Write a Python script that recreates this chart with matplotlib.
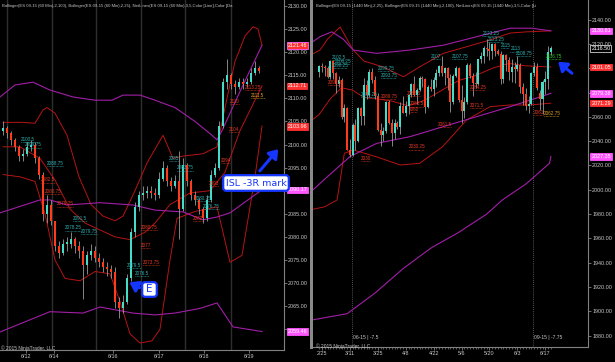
import matplotlib
matplotlib.use("Agg")
import matplotlib.pyplot as plt
from matplotlib.patches import FancyBboxPatch
import matplotlib.transforms as mtransforms
from matplotlib import font_manager

W, H = 615, 362
_names = {f.name for f in font_manager.fontManager.ttflist}
FAM = [f for f in ['Liberation Sans Narrow', 'Liberation Sans', 'DejaVu Sans'] if f in _names]
NARROW = 'Liberation Sans Narrow' in _names
plt.rcParams['font.family'] = FAM

# ---------------- LEFT PANEL DATA (ES 09-15, 60 min) ----------------
L_open0 = 2103.0
L_close = [2103.5, 2102.5, 2101, 2099.5, 2097.5, 2098, 2099.5, 2100, 2097, 2093.5,
           2085, 2087, 2083.5, 2078, 2076.5, 2078.5, 2078.5, 2079.5, 2078, 2077,
           2074, 2076, 2077, 2075.5, 2074.5, 2073.5, 2073, 2072.5, 2066, 2064.5,
           2066, 2071, 2081, 2086.5, 2089, 2089.5, 2090, 2089.5, 2089, 2092.5,
           2095, 2092, 2091, 2092, 2086, 2095.5, 2092, 2089, 2088, 2086,
           2084, 2088, 2093.5, 2095, 2104, 2113.5, 2115, 2113, 2112.5, 2113.5,
           2113, 2113.5, 2115.5, 2116.5, 2116]
L_high = [2105, 2104, 2103, 2101.5, 2100, 2099, 2100.5, 2101, 2100.5, 2097.5,
          2094, 2089, 2088, 2082, 2079, 2079.5, 2080, 2081, 2080, 2079,
          2078, 2077, 2078.5, 2078, 2076.5, 2075.5, 2074.5, 2074, 2073.5, 2067,
          2067.5, 2072, 2082, 2087.5, 2090, 2091, 2091, 2091, 2090.5, 2094,
          2096.5, 2095.5, 2093, 2093.5, 2098.5, 2097, 2096, 2092.5, 2090, 2088.5,
          2086.5, 2089, 2094.5, 2096, 2105, 2114.5, 2118.5, 2115.5, 2114, 2114.5,
          2114.5, 2114.5, 2116.5, 2118, 2117]
L_low = [2102, 2101.5, 2100, 2098.5, 2096.5, 2096.5, 2097.5, 2098.5, 2096, 2092.5,
         2083.5, 2083, 2082.5, 2077, 2075.5, 2076, 2077, 2077.5, 2076.5, 2075.5,
         2066.5, 2072, 2075, 2074.5, 2073.5, 2072.5, 2071.5, 2071, 2064.5, 2062.5,
         2063.5, 2065.5, 2070.5, 2080, 2085.5, 2088, 2088.5, 2088.5, 2088, 2088.5,
         2092, 2091, 2090, 2090.5, 2079.5, 2085.5, 2091, 2088, 2087, 2085,
         2083, 2083.5, 2087.5, 2093, 2094.5, 2103.5, 2112, 2112, 2111, 2112,
         2112, 2112.5, 2113, 2115, 2115.5]

# Bollinger lines, left panel (bar index, price)
L_rup_x = [0, 5, 8, 10, 11, 13, 16, 19, 22, 25, 28, 30, 33, 36, 40, 42.5, 45, 50, 53.5, 55.5, 58, 60.5, 62.5, 63.75, 64.75]
L_rup_y = [2104.8, 2104.8, 2104.6, 2107.5, 2108, 2106.8, 2102, 2093, 2087, 2084.5, 2083.5, 2084.5, 2090, 2096, 2102, 2097, 2097.5, 2098, 2099.5, 2108, 2118, 2123.5, 2125.5, 2125, 2121.5]
L_rmid_x = [0, 4.25, 9.25, 13, 16.75, 20.5, 24.25, 28, 31.75, 35.5, 38, 41.75, 46.75, 51.75, 55.5, 59.25, 64.75]
L_rmid_y = [2099.5, 2099.5, 2097, 2092.3, 2086, 2083, 2081.5, 2080, 2079.4, 2081, 2083, 2087, 2089.5, 2090, 2094, 2103, 2112.7]
L_rlo_x = [0, 4.25, 8, 10.5, 13, 15.5, 19.25, 23, 26.75, 29.25, 31.75, 34.25, 37.25, 39.25, 41.75, 43.5, 48, 53.5, 56.75, 59.75, 63, 64.75]
L_rlo_y = [2093.5, 2093, 2092, 2085, 2075, 2071, 2070.5, 2072.5, 2072, 2066, 2059, 2057, 2057.5, 2060, 2075, 2084, 2085.5, 2086.5, 2074.5, 2076, 2093, 2104]
L_pup_x = [-0.75, 3, 7.5, 11.75, 17.5, 23, 27.25, 30, 34.25, 38, 43, 48, 52.25, 53.5, 54.75, 59.25, 64.75]
L_pup_y = [2110.3, 2112.9, 2113.5, 2111.8, 2110.3, 2109.6, 2109.6, 2110.7, 2110.7, 2109.6, 2108, 2105, 2102, 2101, 2103, 2111.5, 2121.5]
L_pmid_x = [-0.75, 9.25, 11.75, 16, 24.25, 32.5, 38, 45, 50, 53.5, 56.75, 64.75]
L_pmid_y = [2085.2, 2088, 2088, 2086.9, 2087.4, 2086.9, 2085.8, 2085.4, 2083.7, 2084.3, 2085.2, 2090.2]
L_plo_x = [-0.75, 11.75, 20, 24.25, 32.5, 38, 43, 49.25, 53.5, 57.5, 64.75]
L_plo_y = [2059.4, 2063.8, 2063.5, 2064.8, 2063.5, 2063.1, 2063.5, 2064.5, 2065.7, 2060.5, 2059.5]

L_sessions = [1, 12.25, 23.25, 34.5, 45.5, 57]
L_tick_pos = [5.75, 12.75, 27.5, 39, 50.25, 61.5]
L_tick_lab = ["6/12", "6/14", "6/16", "6/17", "6/18", "6/19"]
L_yticks = list(range(2055, 2131, 5))
L_markers = [(2121.46, '#ff3030', '#ff66ff'), (2112.71, '#ff3030', '#ff3030'), (2103.96, '#ff3030', '#ff3030'),
             (2090.17, '#ff55ff', '#ff55ff'), (2059.46, '#ff55ff', '#ff55ff')]

# ---------------- RIGHT PANEL DATA (ES 09-15, daily) ----------------
R_dates = ["2/24", "2/25", "2/26", "2/27", "3/2", "3/3", "3/4", "3/5", "3/6", "3/9",
           "3/10", "3/11", "3/12", "3/13", "3/16", "3/17", "3/18", "3/19", "3/20", "3/23",
           "3/24", "3/25", "3/26", "3/27", "3/30", "3/31", "4/1", "4/2", "4/3", "4/6",
           "4/7", "4/8", "4/9", "4/10", "4/13", "4/14", "4/15", "4/16", "4/17", "4/20",
           "4/21", "4/22", "4/23", "4/24", "4/27", "4/28", "4/29", "4/30", "5/1", "5/4",
           "5/5", "5/6", "5/7", "5/8", "5/11", "5/12", "5/13", "5/14", "5/15", "5/18",
           "5/19", "5/20", "5/21", "5/22", "5/25", "5/26", "5/27", "5/28", "5/29", "6/1",
           "6/2", "6/3", "6/4", "6/5", "6/8", "6/9", "6/10", "6/11", "6/12", "6/15",
           "6/16", "6/17", "6/18", "6/19"]
R_open = [2097, 2102, 2101, 2100, 2093, 2106, 2096, 2087, 2090, 2060,
          2067, 2033, 2029, 2053, 2040, 2067, 2061, 2086, 2078, 2097,
          2090, 2077, 2049, 2045, 2048, 2072, 2055, 2047, 2055, 2052,
          2069, 2063, 2069, 2078, 2087, 2078, 2082, 2092, 2091, 2068,
          2085, 2083, 2090, 2096, 2102, 2096, 2100, 2092, 2072, 2094,
          2100, 2074, 2065, 2072, 2103, 2094, 2088, 2087, 2108, 2110,
          2117, 2116, 2114, 2120, 2114, 2112, 2091, 2111, 2107, 2097,
          2101, 2099, 2103, 2085, 2079, 2069, 2071, 2096, 2101, 2080,
          2075, 2089, 2091, 2113]
R_high = [2103, 2104, 2103, 2102, 2107, 2107, 2097, 2094, 2092, 2071,
          2068, 2042, 2055, 2058, 2068, 2068, 2092, 2090, 2099, 2100,
          2094, 2080, 2055, 2052, 2073, 2074, 2058, 2058, 2057, 2072,
          2077, 2073, 2079, 2088, 2094, 2084, 2094, 2094, 2092, 2086,
          2091, 2093, 2099, 2103, 2110, 2101, 2101, 2095, 2095, 2102,
          2101, 2086, 2076, 2104, 2104, 2096, 2097, 2108, 2113, 2118,
          2124, 2122, 2121, 2121, 2116, 2114, 2112, 2112, 2109, 2108,
          2105, 2110, 2104, 2088, 2084, 2077, 2097, 2105, 2104, 2082,
          2090, 2098, 2118, 2118]
R_low = [2093, 2097, 2094, 2092, 2091, 2091, 2080, 2085, 2058, 2056,
         2033, 2027, 2028, 2033, 2039, 2053, 2053, 2075, 2076, 2088,
         2075, 2048, 2036, 2040, 2047, 2054, 2036, 2042, 2050, 2046,
         2063, 2061, 2062, 2076, 2077, 2071, 2081, 2085, 2063, 2067,
         2081, 2077, 2085, 2094, 2094, 2086, 2082, 2064, 2071, 2093,
         2072, 2055, 2059, 2071, 2092, 2077, 2084, 2086, 2104, 2104,
         2110, 2107, 2108, 2110, 2111, 2087, 2088, 2098, 2090, 2089,
         2088, 2098, 2080, 2070, 2066, 2063, 2070, 2094, 2082, 2066,
         2062, 2079, 2083, 2111]
R_close = [2102, 2101, 2100, 2093, 2106, 2096, 2087, 2090, 2060, 2067,
           2033, 2029, 2053, 2040, 2067, 2061, 2086, 2078, 2097, 2090,
           2077, 2049, 2045, 2048, 2072, 2055, 2047, 2055, 2052, 2069,
           2063, 2069, 2078, 2087, 2078, 2082, 2092, 2091, 2068, 2085,
           2083, 2090, 2096, 2102, 2096, 2100, 2092, 2072, 2094, 2100,
           2074, 2065, 2072, 2103, 2094, 2088, 2087, 2108, 2110, 2117,
           2116, 2114, 2120, 2114, 2112, 2091, 2111, 2107, 2097, 2101,
           2099, 2103, 2085, 2079, 2069, 2071, 2096, 2101, 2084, 2075,
           2089, 2091, 2113, 2116.5]

R_rup_x = [-2.2, 0.3, 3, 7.5, 12.2, 16, 23, 30.2, 36.1, 44.5, 52.9, 61.2, 68.4, 74.4, 83]
R_rup_y = [2112, 2115, 2124, 2134, 2115, 2106, 2101, 2093, 2101.3, 2112.3, 2117.8, 2123.3, 2129, 2130, 2130.8]
R_rmid_x = [-2.2, 0, 4, 8, 12, 16, 20, 26, 32, 38, 44, 50, 56, 62, 68, 74, 83]
R_rmid_y = [2058, 2062, 2075, 2084, 2082, 2076, 2075, 2073, 2069, 2074, 2082, 2090, 2094, 2100, 2104, 2102, 2101.05]
R_rlo_x = [-2.2, 2, 6.4, 9, 12.1, 20.7, 29, 36, 44.2, 52.8, 61.2, 68.4, 75.5, 83]
R_rlo_y = [1984, 1986, 1991.6, 2030, 2032.8, 2027, 2020.4, 2021.8, 2035.5, 2057.4, 2068.4, 2069.8, 2069.8, 2071.3]
R_pup_x = [-2.2, 0.3, 4.5, 8.6, 12.2, 20.6, 32.5, 44.5, 56.4, 68.4, 76, 83]
R_pup_y = [2122, 2126, 2130, 2124, 2115, 2112.3, 2115, 2119, 2126, 2133, 2133, 2130.8]
R_pmid_x = [-2.2, 0.3, 11, 20.6, 32.5, 44.5, 56.4, 68.4, 83]
R_pmid_y = [2000, 2005.3, 2027.3, 2038.2, 2043.7, 2052, 2060.2, 2068.4, 2079.4]
R_plo_x = [-2.2, 10, 20, 30, 40, 50, 60, 65.6, 74.2, 82.5, 83]
R_plo_y = [1893, 1898, 1915, 1935, 1952, 1965, 1980, 1991.6, 2005, 2021.8, 2027.35]

R_roll = [11.6, 76.6]
R_roll_lab = ["06-15 | -7.5", "09-15 | -7.75"]
R_tick_idx = [1, 11, 21, 31, 41, 51, 61, 71, 81]
R_yticks = list(range(1880, 2141, 20))
R_markers = [(2130.81, '#ff55ff'), (2101.05, '#ff3030'), (2079.38, '#ff55ff'), (2071.29, '#ff3030'), (2027.35, '#ff55ff')]
R_last = 2116.50

UP = '#45dcc8'
DN = '#ff3b1c'
WICK = '#9a9a9a'
RED = '#b81414'
PUR = '#a21ea8'
TXT = '#c8c8c8'
CY_T = '#2fb0b0'
RD_T = '#e83a22'
FS_TICK = 4.5 if NARROW else 3.9
FS_HEAD = 3.9 if NARROW else 3.1
FS_NET = 3.9 if NARROW else 3.3

fig = plt.figure(figsize=(6.15, 3.62), dpi=100, facecolor='black')


def px_axes(x0, y0, x1, y1):
    return fig.add_axes([x0 / W, 1 - y1 / H, (x1 - x0) / W, (y1 - y0) / H])


def candles(ax, o, h, l, c, width, minh):
    xs = list(range(len(c)))
    ax.vlines(xs, l, h, color=WICK, lw=0.6, zorder=3)
    for i in xs:
        col = UP if c[i] >= o[i] else DN
        b = min(o[i], c[i])
        hh = max(abs(c[i] - o[i]), minh)
        ax.bar(i, hh, bottom=b, width=width, color=col, edgecolor='none', zorder=4)


def style(ax, yticks, hide):
    ax.set_facecolor('black')
    for s in ['top', 'left']:
        ax.spines[s].set_visible(False)
    for s in ['right', 'bottom']:
        ax.spines[s].set_color('#808080')
        ax.spines[s].set_linewidth(0.8)
    ax.yaxis.tick_right()
    ax.set_yticks(yticks)
    ax.set_yticklabels(['' if v in hide else '%.2f' % v for v in yticks])
    ax.tick_params(axis='both', colors='#808080', labelcolor=TXT, labelsize=FS_TICK, length=2, width=0.6, pad=1)


def netlabel(ax, x, y, t, col, ulen, dy):
    ax.text(x, y, t, color=col, fontsize=FS_NET, zorder=5)
    ax.hlines(y - dy, x, x + ulen * len(t), color=col, lw=0.5, ls=(0, (1, 1)), zorder=5)


# ---------------- LEFT ----------------
axL = px_axes(0, 0, 284, 350)
style(axL, L_yticks, hide=[2060, 2090])
L_open = [L_open0] + L_close[:-1]
axL.set_xlim(-0.75, 70.25)
axL.set_ylim(2055.5, 2131.3)
for s in L_sessions:
    axL.axvline(s, color='#2e2e2e', lw=1.0, zorder=1)
candles(axL, L_open, L_high, L_low, L_close, 0.55, 0.35)
for xs_, ys_ in [(L_rup_x, L_rup_y), (L_rmid_x, L_rmid_y), (L_rlo_x, L_rlo_y)]:
    axL.plot(xs_, ys_, color=RED, lw=0.7, zorder=2)
for xs_, ys_ in [(L_pup_x, L_pup_y), (L_pmid_x, L_pmid_y), (L_plo_x, L_plo_y)]:
    axL.plot(xs_, ys_, color=PUR, lw=0.8, zorder=2)
axL.set_xticks(L_tick_pos)
axL.set_xticklabels(L_tick_lab)

# NetLines labels (left)
L_cy_lab = [(4.5, 2100.8, "2100.5"), (5.5, 2099.6, "2099.75"), (11, 2095.6, "2088.75"), (17.5, 2083.6, "2091.5"),
            (15.5, 2081.6, "2078.25"), (19.5, 2080.9, "2079.75"), (41.5, 2096.6, "2085"), (43.5, 2094.6, "2083.75"),
            (48, 2088.0, "2080.75"), (50, 2086.2, "2076.75"), (31, 2073.5, "2079.5"), (33, 2071.8, "2076.5")]
L_rd_lab = [(9.5, 2092.0, "2082.5"), (10.5, 2089.6, "2080.75"), (13.5, 2086.8, "2079.25"), (34.5, 2081.8, "2080.75"),
            (34.5, 2077.8, "2077"), (35, 2074.2, "2073.75"), (56.8, 2109.0, "2110"), (56.5, 2103.0, "2104"),
            (51.5, 2091.3, "2093"), (47.5, 2083.6, "2082"), (54.5, 2096.2, "2094"), (60.5, 2112.0, "2113.25")]
for x, y, t in L_cy_lab:
    netlabel(axL, x, y, t, CY_T, 0.58, 0.25)
for x, y, t in L_rd_lab:
    netlabel(axL, x, y, t, RD_T, 0.58, 0.25)
netlabel(axL, 62, 2110.3, "2111.5", '#e0a020', 0.58, 0.25)

blend = mtransforms.blended_transform_factory(axL.transAxes, axL.transData)
for v, fc, ec in L_markers:
    axL.text(1.012, v, '%.2f' % v, transform=blend, fontsize=FS_TICK, color='white', va='center', ha='left',
             bbox=dict(boxstyle='square,pad=0.15', fc=fc, ec=ec, lw=0.6), clip_on=False, zorder=6)

# ---------------- RIGHT ----------------
axR = px_axes(313, 0, 588, 347)
style(axR, R_yticks, hide=[2100, 2080])
axR.set_xlim(-2.22, 96.3)
axR.set_ylim(1870.6, 2156.2)
for r, t in zip(R_roll, R_roll_lab):
    axR.axvline(r, color='#707070', lw=0.6, ls=(0, (1, 1.5)), zorder=1)
    axR.text(r + 0.4, 1877, t, color=TXT, fontsize=FS_NET + 0.3, zorder=5)
candles(axR, R_open, R_high, R_low, R_close, 0.72, 0.9)
for xs_, ys_ in [(R_rup_x, R_rup_y), (R_rmid_x, R_rmid_y), (R_rlo_x, R_rlo_y)]:
    axR.plot(xs_, ys_, color=RED, lw=0.7, zorder=2)
for xs_, ys_ in [(R_pup_x, R_pup_y), (R_pmid_x, R_pmid_y), (R_plo_x, R_plo_y)]:
    axR.plot(xs_, ys_, color=PUR, lw=0.8, zorder=2)
axR.set_xticks(R_tick_idx)
axR.set_xticklabels([R_dates[i] for i in R_tick_idx])
axR.set_xticks(range(0, len(R_dates)), minor=True)
axR.tick_params(axis='x', which='minor', length=1.5, color='#808080', width=0.5)

R_cy_lab = [(4.5, 2107.5, "2102.5"), (5.5, 2104.3, "2100.25"), (4.5, 2101.1, "2098.25"), (21, 2098.5, "2099.75"),
            (22, 2092.8, "2093.75"), (40, 2108.5, "2107"), (47.5, 2108.5, "2107.75"), (58.5, 2127.5, "2123.25"),
            (60.5, 2122.5, "2123.25"), (65, 2117.5, "2115"), (68.5, 2114.8, "2113"), (70.5, 2111.0, "2108.75"),
            (15, 2077.5, "2083.25")]
R_rd_lab = [(3, 2087, "2093.5"), (22, 2075.5, "2089.75"), (32.5, 2069.5, "2065.5"), (32, 2065, "2060"),
            (42.5, 2052.5, "2061.5"), (54, 2068.5, "2071.5"), (54, 2083, "2084.25"), (15, 2024.5, "2030"),
            (32, 2034, "2030.25"), (77, 2062.5, "2061"), (31.5, 2078, "2082.5")]
for x, y, t in R_cy_lab:
    netlabel(axR, x, y, t, CY_T, 0.78, 1.0)
for x, y, t in R_rd_lab:
    netlabel(axR, x, y, t, RD_T, 0.78, 1.0)
netlabel(axR, 80.5, 2061.5, "2062.75", '#e0a020', 0.78, 1.0)
netlabel(axR, 81.2, 2108.5, "2116.75", '#30d030', 0.78, 1.0)

blendR = mtransforms.blended_transform_factory(axR.transAxes, axR.transData)
for v, fc in R_markers:
    axR.text(1.012, v, '%.2f' % v, transform=blendR, fontsize=FS_TICK, color='white', va='center', ha='left',
             bbox=dict(boxstyle='square,pad=0.15', fc=fc, ec=fc, lw=0.6), clip_on=False, zorder=6)
axR.text(1.012, R_last, '%.2f' % R_last, transform=blendR, fontsize=FS_TICK, color='white', va='center', ha='left',
         bbox=dict(boxstyle='square,pad=0.15', fc='black', ec='#d0d0d0', lw=0.6), clip_on=False, zorder=6)

# ---------------- OVERLAY (headers, callouts) ----------------
ov = fig.add_axes([0, 0, 1, 1], facecolor='none')
ov.set_xlim(0, W)
ov.set_ylim(H, 0)
ov.axis('off')
ov.set_zorder(10)
ov.add_patch(plt.Rectangle((310, 0), 3, 349, color='#8a8a8a', lw=0))
ov.text(2, 6, "Bollinger(ES 09-15 (60 Min),2,100), Bollinger(ES 09-15 (60 Min),2,25), NetLines(ES 09-15 (60 Min),3,5,Color [Line],Color [Da",
        color=TXT, fontsize=FS_HEAD, va='center')
ov.text(316, 6, "Bollinger(ES 09-15 (1440 Min),2,25), Bollinger(ES 09-15 (1440 Min),2,100), NetLines(ES 09-15 (1440 Min),3,5,Color [Li",
        color=TXT, fontsize=FS_HEAD, va='center')
ov.text(1, 348, "© 2015 NinjaTrader, LLC", color=TXT, fontsize=FS_NET + 0.2, va='center')
ov.text(316, 346, "© 2015 NinjaTrader, LLC", color=TXT, fontsize=FS_NET + 0.2, va='center')

blue = '#1536ff'
ov.add_patch(FancyBboxPatch((143, 283), 13, 13, boxstyle='round,pad=0.8,rounding_size=3', fc='white', ec=blue, lw=1.6))
ov.text(149.5, 289.5, "E", color=blue, fontsize=7.5, ha='center', va='center', family='DejaVu Sans')
ov.annotate('', xy=(127, 281), xytext=(142, 289), arrowprops=dict(arrowstyle='-|>,head_width=0.35,head_length=0.5', color=blue, lw=2.2))

ov.add_patch(FancyBboxPatch((224, 176), 64, 14, boxstyle='round,pad=0.8,rounding_size=3', fc='white', ec=blue, lw=1.6))
ov.text(256, 183, "ISL -3R mark", color=blue, fontsize=6.8, ha='center', va='center', family='DejaVu Sans')
ov.annotate('', xy=(280, 147), xytext=(258, 173), arrowprops=dict(arrowstyle='-|>,head_width=0.35,head_length=0.5', color=blue, lw=2.2))
ov.annotate('', xy=(556, 60), xytext=(574, 75), arrowprops=dict(arrowstyle='-|>,head_width=0.35,head_length=0.5', color=blue, lw=2.2))

fig.savefig('out.png', dpi=100, facecolor='black')
